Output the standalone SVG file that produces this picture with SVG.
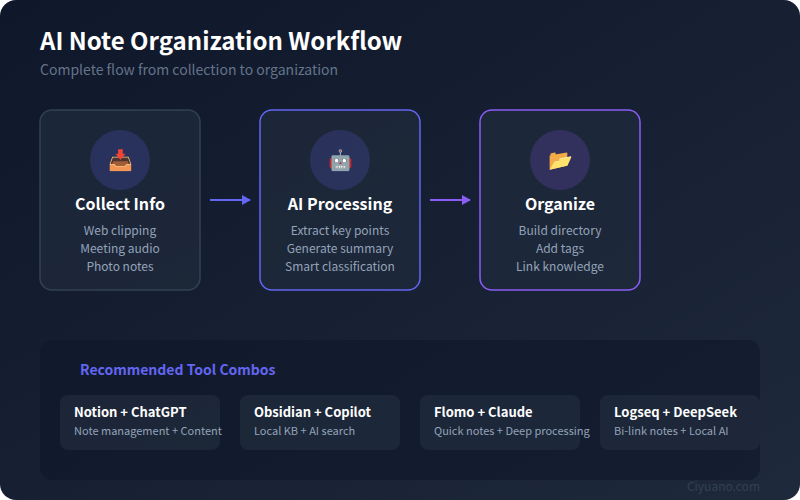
<svg xmlns="http://www.w3.org/2000/svg" width="800" height="500" viewBox="0 0 800 500">
<defs>
<linearGradient id="bg" x1="0" y1="0" x2="1" y2="1">
<stop offset="0" stop-color="#0f172a"/>
<stop offset="1" stop-color="#1e293b"/>
</linearGradient>
<marker id="ah1" markerWidth="10" markerHeight="10" refX="8" refY="5" orient="auto" markerUnits="userSpaceOnUse">
<path d="M0,0 L9,5 L0,10 Z" fill="#6366f1"/>
</marker>
<marker id="ah2" markerWidth="10" markerHeight="10" refX="8" refY="5" orient="auto" markerUnits="userSpaceOnUse">
<path d="M0,0 L9,5 L0,10 Z" fill="#8b5cf6"/>
</marker>
</defs>
<style>
text{font-family:"Noto Sans CJK SC","Noto Sans","Liberation Sans",sans-serif}
.card{fill:#1e293b;fill-opacity:0.8;stroke-width:1.5}
.ctitle{font-size:16px;font-weight:bold;fill:#ffffff;text-anchor:middle}
.csub{font-size:12px;fill:#94a3b8;text-anchor:middle}
.icon{font-size:20px;text-anchor:middle;fill:#6366f1}
.tool{fill:#1e293b;fill-opacity:0.85}
.ttitle{font-size:13px;font-weight:bold;fill:#ffffff}
.tsub{font-size:11px;fill:#94a3b8}
</style>
<rect x="0" y="0" width="800" height="500" fill="#ffffff"/>
<rect x="0" y="0" width="800" height="500" rx="16" fill="url(#bg)"/>
<text x="40" y="50" font-size="24" font-weight="bold" fill="#ffffff">AI Note Organization Workflow</text>
<text x="40" y="75" font-size="14" fill="#64748b">Complete flow from collection to organization</text>

<g id="node-collect">
<rect class="card" x="40" y="110" width="160" height="180" rx="12" stroke="#334155"/>
<circle cx="120" cy="160" r="30" fill="#6366f1" fill-opacity="0.2"/>
<text class="icon" x="120" y="167">📥</text>
<text class="ctitle" x="120" y="210">Collect Info</text>
<text class="csub" x="120" y="235">Web clipping</text>
<text class="csub" x="120" y="253">Meeting audio</text>
<text class="csub" x="120" y="271">Photo notes</text>
</g>
<g id="node-process">
<rect class="card" x="260" y="110" width="160" height="180" rx="12" stroke="#6366f1"/>
<circle cx="340" cy="160" r="30" fill="#6366f1" fill-opacity="0.2"/>
<text class="icon" x="340" y="167">🤖</text>
<text class="ctitle" x="340" y="210">AI Processing</text>
<text class="csub" x="340" y="235">Extract key points</text>
<text class="csub" x="340" y="253">Generate summary</text>
<text class="csub" x="340" y="271">Smart classification</text>
</g>
<g id="node-organize">
<rect class="card" x="480" y="110" width="160" height="180" rx="12" stroke="#8b5cf6"/>
<circle cx="560" cy="160" r="30" fill="#8b5cf6" fill-opacity="0.2"/>
<text class="icon" x="560" y="167" style="fill:#8b5cf6">📂</text>
<text class="ctitle" x="560" y="210">Organize</text>
<text class="csub" x="560" y="235">Build directory</text>
<text class="csub" x="560" y="253">Add tags</text>
<text class="csub" x="560" y="271">Link knowledge</text>
</g>
<g id="connectors">
<line x1="210" y1="200" x2="250" y2="200" stroke="#6366f1" stroke-width="2" marker-end="url(#ah1)"/>
<line x1="430" y1="200" x2="470" y2="200" stroke="#8b5cf6" stroke-width="2" marker-end="url(#ah2)"/>
</g>

<g id="tools-panel">
<rect x="40" y="340" width="720" height="140" rx="12" fill="#0f172a" fill-opacity="0.6"/>
<text x="80" y="375" font-size="14" font-weight="bold" fill="#6366f1">Recommended Tool Combos</text>
</g>
<g id="tool-notion">
<rect class="tool" x="60" y="395" width="160" height="55" rx="8"/>
<text class="ttitle" x="74" y="417">Notion + ChatGPT</text>
<text class="tsub" x="74" y="435">Note management + Content</text>
</g>
<g id="tool-obsidian">
<rect class="tool" x="240" y="395" width="160" height="55" rx="8"/>
<text class="ttitle" x="254" y="417">Obsidian + Copilot</text>
<text class="tsub" x="254" y="435">Local KB + AI search</text>
</g>
<g id="tool-flomo">
<rect class="tool" x="420" y="395" width="160" height="55" rx="8"/>
<text class="ttitle" x="434" y="417">Flomo + Claude</text>
<text class="tsub" x="434" y="435">Quick notes + Deep processing</text>
</g>
<g id="tool-logseq">
<rect class="tool" x="600" y="395" width="160" height="55" rx="8"/>
<text class="ttitle" x="614" y="417">Logseq + DeepSeek</text>
<text class="tsub" x="614" y="435">Bi-link notes + Local AI</text>
</g>
<text x="760" y="491" font-size="12" fill="#334155" text-anchor="end">Ciyuano.com</text>
</svg>
